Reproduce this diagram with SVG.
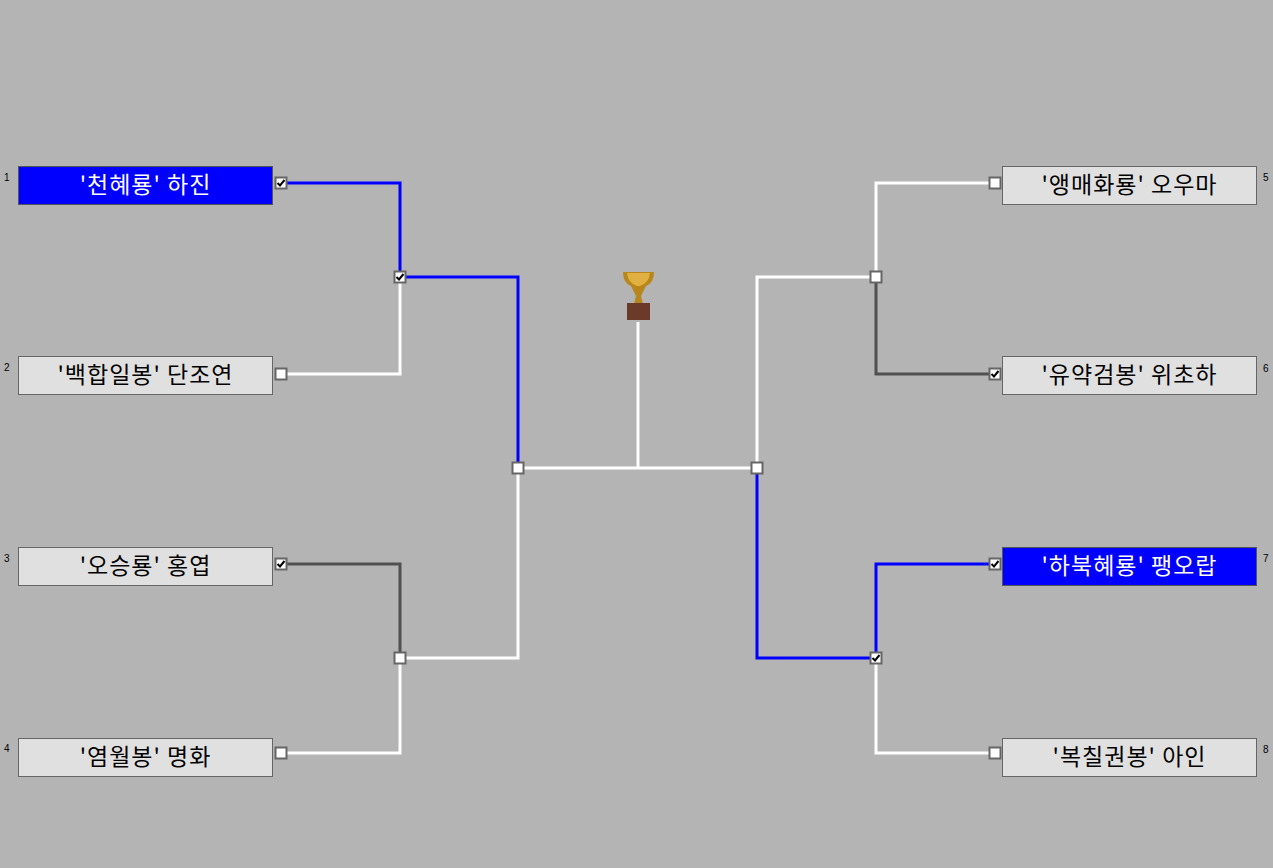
<svg xmlns="http://www.w3.org/2000/svg" width="1273" height="868" viewBox="0 0 1273 868">
<defs>
<style>
.box{fill:#e0e0e0;stroke:#666;stroke-width:1}
.win{fill:#0000ff;stroke:#555;stroke-width:1}
.t{font-family:"Noto Sans CJK KR","Noto Sans",sans-serif;font-size:23px;letter-spacing:1px;text-anchor:middle;fill:#000}
.tw{fill:#fff}
.n{font-family:"Liberation Sans",sans-serif;font-size:10px;fill:#000}
.b{fill:none;stroke:#0000ff;stroke-width:3}
.w{fill:none;stroke:#fff;stroke-width:3}
.g{fill:none;stroke:#505050;stroke-width:3}
.cb{fill:#fff;stroke:#666;stroke-width:2}
.ck{fill:none;stroke:#000;stroke-width:2}
</style>
<g id="box"><rect class="cb" x="-5.5" y="-5.5" width="11" height="11"/></g>
<g id="chk"><rect class="cb" x="-5.5" y="-5.5" width="11" height="11"/><path class="ck" d="M-3.5,0 L-1,2.5 L3.5,-3"/></g>
</defs>
<rect width="1273" height="868" fill="#b4b4b4"/>
<g id="connectors">
<path class="b" d="M286,183 H400 V277"/>
<path class="w" d="M286,374 H400 V277"/>
<path class="b" d="M400,277 H518 V468"/>
<path class="g" d="M286,564 H400 V658"/>
<path class="w" d="M286,753 H400 V658"/>
<path class="w" d="M400,658 H518 V468"/>
<path class="w" d="M518,468 H757"/>
<path class="w" d="M638,468 V322"/>
<path class="w" d="M757,468 V277 H876"/>
<path class="b" d="M757,468 V658 H876"/>
<path class="w" d="M876,277 V183 H990"/>
<path class="g" d="M876,277 V374 H990"/>
<path class="b" d="M876,658 V564 H990"/>
<path class="w" d="M876,658 V753 H990"/>
</g>
<g id="trophy">
<path d="M623,272 Q623,283 631,286 L636,296 L634,304 L643,304 L641,296 L646,286 Q654,283 654,272 Z" fill="#b8861a"/>
<path d="M627,273 Q628,283 637,286 L640,286 Q649,283 650,273 Z" fill="#e0b040"/>
<rect x="627" y="303" width="23" height="17" fill="#6b3a2a"/>
</g>
<g id="node1"><rect class="win" x="18.5" y="166.5" width="254" height="38"/><text class="t tw" x="145.5" y="193">'천혜룡' 하진</text><text class="n" x="4" y="181">1</text><use href="#chk" x="281" y="183"/></g>
<g id="node2"><rect class="box" x="18.5" y="356.5" width="254" height="38"/><text class="t" x="145.5" y="383">'백합일봉' 단조연</text><text class="n" x="4" y="371">2</text><use href="#box" x="281" y="374"/></g>
<g id="node3"><rect class="box" x="18.5" y="547.5" width="254" height="38"/><text class="t" x="145.5" y="574">'오승룡' 홍엽</text><text class="n" x="4" y="562">3</text><use href="#chk" x="281" y="564"/></g>
<g id="node4"><rect class="box" x="18.5" y="738.5" width="254" height="38"/><text class="t" x="145.5" y="765">'염월봉' 명화</text><text class="n" x="4" y="752">4</text><use href="#box" x="281" y="753"/></g>
<g id="node5"><rect class="box" x="1002.5" y="166.5" width="254" height="38"/><text class="t" x="1129.5" y="193">'앵매화룡' 오우마</text><text class="n" x="1263" y="181">5</text><use href="#box" x="995" y="183"/></g>
<g id="node6"><rect class="box" x="1002.5" y="356.5" width="254" height="38"/><text class="t" x="1129.5" y="383">'유약검봉' 위초하</text><text class="n" x="1263" y="372">6</text><use href="#chk" x="995" y="374"/></g>
<g id="node7"><rect class="win" x="1002.5" y="547.5" width="254" height="38"/><text class="t tw" x="1129.5" y="574">'하북혜룡' 팽오랍</text><text class="n" x="1263" y="562">7</text><use href="#chk" x="995" y="564"/></g>
<g id="node8"><rect class="box" x="1002.5" y="738.5" width="254" height="38"/><text class="t" x="1129.5" y="765">'복칠권봉' 아인</text><text class="n" x="1263" y="753">8</text><use href="#box" x="995" y="753"/></g>
<g id="junctions">
<use href="#chk" x="400" y="277"/>
<use href="#box" x="400" y="658"/>
<use href="#box" x="518" y="468"/>
<use href="#box" x="757" y="468"/>
<use href="#box" x="876" y="277"/>
<use href="#chk" x="876" y="658"/>
</g>
</svg>
